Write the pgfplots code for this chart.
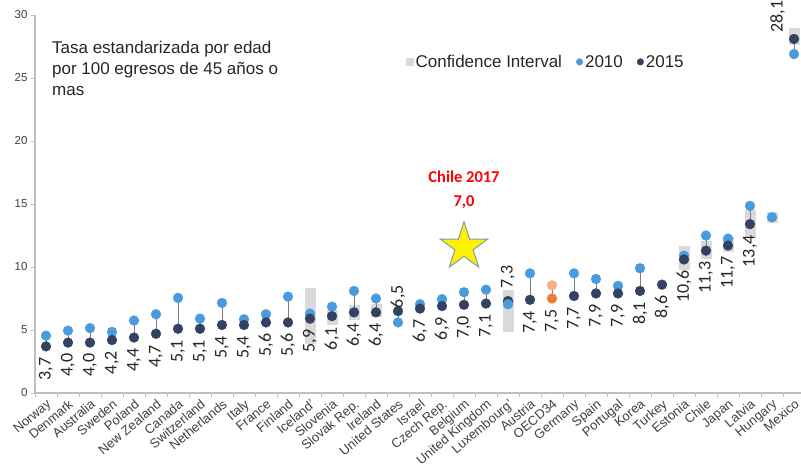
\documentclass[border=0pt]{standalone}
\usepackage{pgfplots}
\pgfplotsset{compat=1.18}
\usepackage{pgfplotstable}
\usepackage{fontspec}
\setmainfont{Liberation Sans}
\newfontfamily\carlito{Carlito}
\definecolor{cTwoTen}{HTML}{4A9BDD}
\definecolor{cTwoFifteen}{HTML}{324260}
\definecolor{cOecdA}{HTML}{F4B183}
\definecolor{cOecdB}{HTML}{ED7D31}
\definecolor{ciGray}{HTML}{D9D9D9}
\definecolor{lineGray}{HTML}{7F7F7F}
\definecolor{axisGray}{HTML}{BFBFBF}
\definecolor{txtGray}{HTML}{404040}
\definecolor{starEdge}{HTML}{8497B0}

\pgfdeclareplotmark{fivestar}{%
  \pgfpathmoveto{\pgfpointpolar{90}{\pgfplotmarksize}}%
  \pgfpathlineto{\pgfpointpolar{126}{0.382\pgfplotmarksize}}%
  \pgfpathlineto{\pgfpointpolar{162}{\pgfplotmarksize}}%
  \pgfpathlineto{\pgfpointpolar{198}{0.382\pgfplotmarksize}}%
  \pgfpathlineto{\pgfpointpolar{234}{\pgfplotmarksize}}%
  \pgfpathlineto{\pgfpointpolar{270}{0.382\pgfplotmarksize}}%
  \pgfpathlineto{\pgfpointpolar{306}{\pgfplotmarksize}}%
  \pgfpathlineto{\pgfpointpolar{342}{0.382\pgfplotmarksize}}%
  \pgfpathlineto{\pgfpointpolar{18}{\pgfplotmarksize}}%
  \pgfpathlineto{\pgfpointpolar{54}{0.382\pgfplotmarksize}}%
  \pgfpathclose
  \pgfusepathqfillstroke
}

% 2015 and 2010 values (OECD34 drawn separately)
\pgfplotstableread{
x v15 v10
0 3.7 4.55
1 4.0 4.95
2 4.0 5.15
3 4.2 4.85
4 4.4 5.75
5 4.7 6.25
6 5.1 7.55
7 5.1 5.9
8 5.4 7.15
9 5.4 5.85
10 5.6 6.25
11 5.6 7.65
12 5.9 6.3
13 6.1 6.85
14 6.4 8.1
15 6.4 7.5
16 6.5 5.6
17 6.7 7.05
18 6.9 7.45
19 7.0 8.0
20 7.1 8.2
21 7.3 nan
22 7.4 9.5
24 7.7 9.5
25 7.9 9.05
26 7.9 8.5
27 8.1 9.9
28 8.6 nan
29 10.6 10.9
30 11.3 12.5
31 11.7 12.25
32 13.4 14.85
33 nan 13.95
34 28.1 26.9
}\mainData

\pgfplotstableread{
x y lab
0 3.7 3,7
1 4.0 4,0
2 4.0 4,0
3 4.2 4,2
4 4.4 4,4
5 4.7 4,7
6 5.1 5,1
7 5.1 5,1
8 5.4 5,4
9 5.4 5,4
10 5.6 5,6
11 5.6 5,6
12 5.9 5,9
13 6.1 6,1
14 6.4 6,4
15 6.4 6,4
17 6.7 6,7
18 6.9 6,9
19 7.0 7,0
20 7.1 7,1
22 7.4 7,4
23 7.5 7,5
24 7.7 7,7
25 7.9 7,9
26 7.9 7,9
27 8.1 8,1
28 8.6 8,6
29 10.6 10,6
30 11.3 11,3
31 11.7 11,7
32 13.4 13,4
}\labBelow

\pgfplotstableread{
x y lab
16 6.65 6,5
21 8.2 7,3
33.25 28.5 28,1
}\labAbove

\begin{document}
\begin{tikzpicture}
\begin{axis}[
  at={(0,0)}, anchor=south west,
  scale only axis,
  width=770pt, height=378pt,
  xmin=-0.5, xmax=34.5, ymin=0, ymax=30,
  clip=false,
  axis lines*=left,
  axis line style={axisGray, line width=1.3pt},
  tick style={axisGray, line width=0.8pt},
  tick align=outside,
  major tick length=4pt,
  ytick={0,5,...,30},
  xtick={-0.5,0.5,...,34.5},
  x tick label as interval,
  xticklabels={Norway,Denmark,Australia,Sweden,Poland,New Zealand,Canada,Switzerland,Netherlands,Italy,France,Finland,Iceland',Slovenia,Slovak Rep.,Ireland,United States,Israel,Czech Rep.,Belgium,United Kingdom,Luxembourg',Austria,OECD34,Germany,Spain,Portugal,Korea,Turkey,Estonia,Chile,Japan,Latvia,Hungary,Mexico},
  xticklabel style={rotate=40, anchor=north east, inner sep=1pt, font=\fontsize{13}{13}\selectfont, text=txtGray},
  yticklabel style={font=\fontsize{11.5}{11.5}\selectfont, text=txtGray},
  /pgf/number format/assume math mode=true,
  legend style={at={(0.481,0.876)}, anchor=west, draw=none, fill=none,
    font=\fontsize{17}{17}\selectfont, text=black!85, inner sep=0pt,
    /tikz/every even column/.append style={column sep=12pt}},
  legend columns=3,
  legend cell align=left,
]
% confidence intervals
\addplot[ciGray, line width=11pt, unbounded coords=jump,
  legend image code/.code={\path[fill=ciGray, draw=none, line width=0pt] (0pt,-4pt) rectangle (8pt,4pt);}]
  coordinates {(12,3.9)(12,8.3)(12,nan)
    (13,5.4)(13,6.6)(13,nan)
    (14,5.8)(14,7.0)(14,nan)
    (15,6.0)(15,7.1)(15,nan)
    (21,4.85)(21,8.2)(21,nan)
    (29,9.8)(29,11.7)(29,nan)
    (30,10.6)(30,12.1)(30,nan)
    (31,11.2)(31,12.4)(31,nan)
    (32,12.3)(32,14.5)(32,nan)
    (33,13.5)(33,14.4)(33,nan)
    (34,27.6)(34,29.0)};
\addlegendentry{Confidence Interval}
% connectors
\addplot[lineGray, line width=0.8pt, unbounded coords=jump, forget plot]
  coordinates {(0,3.7)(0,4.55)(0,nan)(1,4.0)(1,4.95)(1,nan)(2,4.0)(2,5.15)(2,nan)
  (3,4.2)(3,4.85)(3,nan)(4,4.4)(4,5.75)(4,nan)(5,4.7)(5,6.25)(5,nan)
  (6,5.1)(6,7.55)(6,nan)(7,5.1)(7,5.9)(7,nan)(8,5.4)(8,7.15)(8,nan)
  (9,5.4)(9,5.85)(9,nan)(10,5.6)(10,6.25)(10,nan)(11,5.6)(11,7.65)(11,nan)
  (12,5.9)(12,6.3)(12,nan)(13,6.1)(13,6.85)(13,nan)(14,6.4)(14,8.1)(14,nan)
  (15,6.4)(15,7.5)(15,nan)(16,6.5)(16,5.6)(16,nan)(17,6.7)(17,7.05)(17,nan)
  (18,6.9)(18,7.45)(18,nan)(19,7.0)(19,8.0)(19,nan)(20,7.1)(20,8.2)(20,nan)
  (22,7.4)(22,9.5)(22,nan)(23,7.5)(23,8.55)(23,nan)(24,7.7)(24,9.5)(24,nan)
  (25,7.9)(25,9.05)(25,nan)(26,7.9)(26,8.5)(26,nan)(27,8.1)(27,9.9)(27,nan)
  (29,10.6)(29,10.9)(29,nan)(30,11.3)(30,12.5)(30,nan)(31,11.7)(31,12.25)(31,nan)
  (32,13.4)(32,14.85)(32,nan)(34,28.1)(34,26.9)};
% 2010
\addplot[only marks, color=cTwoTen, mark=*, mark size=4.9pt,
  legend image code/.code={\fill[cTwoTen] (3.5pt,0pt) circle (3.3pt);}]
  table[x=x, y=v10] {\mainData};
\addlegendentry{2010}
% 2015
\addplot[only marks, color=cTwoFifteen, mark=*, mark size=4.9pt,
  legend image code/.code={\fill[cTwoFifteen] (3.5pt,0pt) circle (3.3pt);}]
  table[x=x, y=v15] {\mainData};
\addlegendentry{2015}
% Luxembourg 2010 (drawn over 2015)
\addplot[only marks, color=cTwoTen, mark=*, mark size=4.9pt, forget plot]
  coordinates {(21,7.05)};
% OECD34
\addplot[only marks, color=cOecdA, mark=*, mark size=4.9pt, forget plot]
  coordinates {(23,8.55)};
\addplot[only marks, color=cOecdB, mark=*, mark size=4.9pt, forget plot]
  coordinates {(23,7.5)};
% Chile 2017 star
\addplot[only marks, mark=fivestar, mark size=25pt,
  mark options={fill=yellow, draw=starEdge, line width=1pt}, forget plot]
  coordinates {(19,11.6)};
% value labels
\addplot[draw=none, mark=none, forget plot, nodes near coords, point meta=explicit symbolic,
  every node near coord/.append style={yshift=-11pt, rotate=90, anchor=east, inner sep=0pt,
    font=\carlito\fontsize{18}{18}\selectfont, text=black!85}]
  table[x=x, y=y, meta=lab] {\labBelow};
\addplot[draw=none, mark=none, forget plot, nodes near coords, point meta=explicit symbolic,
  every node near coord/.append style={yshift=1pt, rotate=90, anchor=west, inner sep=0pt,
    font=\carlito\fontsize{18}{18}\selectfont, text=black!85}]
  table[x=x, y=y, meta=lab] {\labAbove};
% texts
\node[text=red, font=\carlito\bfseries\fontsize{16.5}{24}\selectfont, align=center]
  at (axis cs:19,16.1) {Chile 2017\\7,0};
\node[anchor=north west, align=left, inner sep=0pt, font=\fontsize{17}{21}\selectfont, text=black!85]
  at (rel axis cs:0.022,0.931) {Tasa estandarizada por edad\\por 100 egresos de 45 años o\\mas};
\end{axis}
\pgfresetboundingbox
\path[use as bounding box] (-35pt,-82pt) rectangle (766pt,393pt);
\end{tikzpicture}
\end{document}
